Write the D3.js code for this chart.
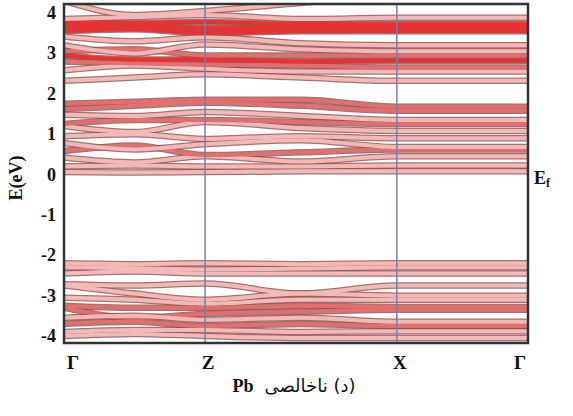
<!DOCTYPE html>
<html>
<head>
<meta charset="utf-8">
<script src="https://cdn.jsdelivr.net/npm/d3@7"></script>
<style>
  body { margin: 0; background: #fff; }
  text { font-family: "Liberation Serif", "DejaVu Serif", serif; font-weight: bold; fill: #111; }
</style>
</head>
<body>
<svg width="573" height="416"></svg>
<script>
// k-path (distance along path) and labels
var kTicks = [0, 1, 2.36, 3.29];
var kLabels = ["Γ", "Z", "X", "Γ"];
// band values sampled at Γ, mid(Γ-Z), Z, mid(Z-X), X ; X-Γ is flat
var kSamples = [0, 0.5, 1, 1.68, 2.36];
var yTicks = [4, 3, 2, 1, 0, -1, -2, -3, -4];

var valenceBands = [
  [-2.2, -2.22, -2.2, -2.22, -2.2],
  [-2.3, -2.32, -2.35, -2.33, -2.3],
  [-2.45, -2.4, -2.45, -2.45, -2.45],
  [-2.72, -2.75, -2.7, -2.95, -2.75],
  [-2.75, -2.95, -3.1, -2.95, -3.0],
  [-3.05, -3.1, -3.2, -3.1, -3.1],
  [-3.25, -3.3, -3.3, -3.25, -3.28],
  [-3.3, -3.55, -3.45, -3.4, -3.35],
  [-3.55, -3.5, -3.6, -3.55, -3.65],
  [-3.7, -3.65, -3.75, -3.7, -3.75],
  [-3.9, -3.85, -3.85, -3.9, -3.88],
  [-4.0, -3.95, -4.0, -4.05, -4.05]
];
var conductionBands = [
  [0.06, 0.05, 0.06, 0.08, 0.08],
  [0.2, 0.22, 0.2, 0.2, 0.22],
  [0.42, 0.3, 0.45, 0.32, 0.45],
  [0.58, 0.72, 0.48, 0.55, 0.62],
  [0.78, 0.62, 0.75, 0.85, 0.68],
  [0.95, 1.0, 0.88, 0.95, 0.9],
  [1.2, 1.05, 1.3, 1.15, 1.08],
  [1.25, 1.35, 1.35, 1.3, 1.25],
  [1.48, 1.45, 1.55, 1.45, 1.35],
  [1.62, 1.7, 1.78, 1.7, 1.58],
  [1.75, 1.8, 1.85, 1.85, 1.68]
];
var upperBands = [
  [2.32, 2.4, 2.48, 2.4, 2.32],
  [2.58, 2.7, 2.62, 2.55, 2.55],
  [2.8, 2.75, 2.72, 2.7, 2.65],
  [2.95, 2.85, 2.85, 2.8, 2.82],
  [3.05, 3.1, 2.95, 2.95, 2.95],
  [3.2, 3.0, 3.22, 3.1, 3.05],
  [3.42, 3.3, 3.4, 3.25, 3.2],
  [3.55, 3.6, 3.5, 3.55, 3.55],
  [3.65, 3.7, 3.62, 3.65, 3.65],
  [3.78, 3.75, 3.78, 3.72, 3.72],
  [3.85, 3.9, 3.95, 3.85, 3.88],
  [4.3, 3.95, 4.05, 4.25, 4.4]
];
// tone of each band: 0 pink, 1 rose, 2 red
var valenceTone = [0, 0, 0, 0, 0, 0, 1, 1, 0, 1, 0, 0];
var conductionTone = [0, 0, 0, 1, 0, 0, 0, 1, 0, 1, 1];
var upperTone = [0, 0, 1, 2, 1, 0, 0, 2, 2, 2, 0, 0];
var tones = ["#f3b9b9", "#e07070", "#ea3030"];

var svg = d3.select("svg");
var pLeft = 64, pRight = 528, pTop = 4, pBottom = 343;

var x = d3.scaleLinear().domain([0, 3.29]).range([pLeft, pRight]);
var y = d3.scaleLinear().domain([-4, 4]).range([336, 13]);

svg.append("clipPath").attr("id", "plot")
  .append("rect").attr("x", pLeft).attr("y", pTop)
  .attr("width", pRight - pLeft).attr("height", pBottom - pTop);

var g = svg.append("g").attr("clip-path", "url(#plot)");

var line = d3.line()
  .x(function(d) { return x(d[0]); })
  .y(function(d) { return y(d[1]); })
  .curve(d3.curveMonotoneX);

function pts(band) {
  var p = band.map(function(v, i) { return [kSamples[i], v]; });
  p.push([kTicks[3], band[band.length - 1]]);
  return p;
}

var all = [];
valenceBands.forEach(function(b, i) { all.push({v: b, t: valenceTone[i]}); });
conductionBands.forEach(function(b, i) { all.push({v: b, t: conductionTone[i]}); });
upperBands.forEach(function(b, i) { all.push({v: b, t: upperTone[i]}); });

// dark edges
g.selectAll(".edge").data(all).enter().append("path")
  .attr("class", "edge")
  .attr("d", function(d) { return line(pts(d.v)); })
  .attr("fill", "none")
  .attr("stroke", "#8e4f4f")
  .attr("stroke-opacity", 0.8)
  .attr("stroke-width", 6.5);

// fill
g.selectAll(".core").data(all).enter().append("path")
  .attr("class", "core")
  .attr("d", function(d) { return line(pts(d.v)); })
  .attr("fill", "none")
  .attr("stroke", function(d) { return tones[d.t]; })
  .attr("stroke-width", 4);

// high symmetry lines
g.selectAll(".sym").data(kTicks.slice(1, 3)).enter().append("line")
  .attr("x1", function(d) { return x(d); })
  .attr("x2", function(d) { return x(d); })
  .attr("y1", pTop).attr("y2", pBottom)
  .attr("stroke", "#7c7ca6")
  .attr("stroke-width", 1.5);

// frame
svg.append("rect")
  .attr("x", pLeft).attr("y", pTop)
  .attr("width", pRight - pLeft).attr("height", pBottom - pTop)
  .attr("fill", "none").attr("stroke", "#333").attr("stroke-width", 2.5);

// y tick labels
svg.selectAll(".ytl").data(yTicks).enter().append("text")
  .attr("x", 56)
  .attr("y", function(d) { return y(d) + 6; })
  .attr("text-anchor", "end")
  .style("font-size", "18px")
  .text(function(d) { return d; });

// x tick labels
svg.selectAll(".xtl").data(kTicks).enter().append("text")
  .attr("x", function(d, i) { return i == 0 ? x(d) + 9 : i == 3 ? x(d) - 8 : x(d) + 3; })
  .attr("y", 369)
  .attr("text-anchor", "middle")
  .style("font-size", "19px")
  .text(function(d, i) { return kLabels[i]; });

// axis title
svg.append("text")
  .attr("transform", "translate(22,178) rotate(-90)")
  .attr("text-anchor", "middle")
  .style("font-size", "18px")
  .text("E(eV)");

// Fermi label
var ef = svg.append("text").attr("x", 534).attr("y", 184).style("font-size", "18px");
ef.append("tspan").text("E");
ef.append("tspan").attr("dy", 3).style("font-size", "12px").text("f");

// caption
svg.append("text")
  .attr("x", 243).attr("y", 392)
  .attr("text-anchor", "middle")
  .style("font-size", "18px")
  .text("Pb");
svg.append("text")
  .attr("x", 310).attr("y", 392)
  .attr("text-anchor", "middle")
  .attr("direction", "rtl")
  .style("font-family", "'DejaVu Sans', sans-serif")
  .style("font-size", "18px")
  .style("font-weight", "normal")
  .text("(د) ناخالصی");
</script>
</body>
</html>
